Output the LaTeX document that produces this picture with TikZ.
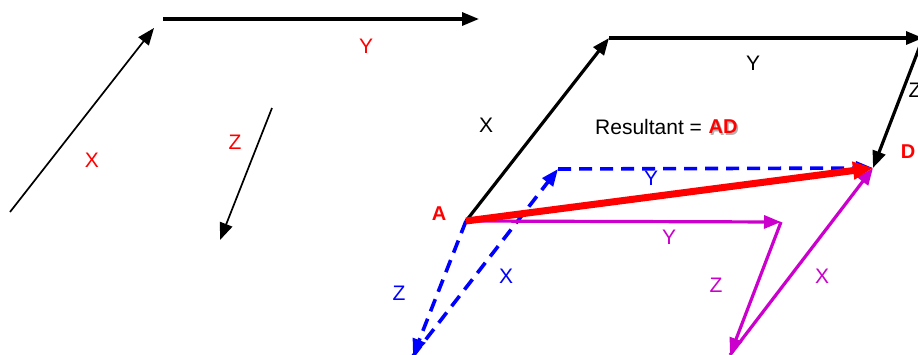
\documentclass[tikz,border=0pt]{standalone}
\usepackage{fontspec}
\setmainfont{Liberation Sans}
\usetikzlibrary{arrows.meta}
\definecolor{mred}{RGB}{255,0,0}
\definecolor{mblue}{RGB}{0,0,255}
\definecolor{mmag}{RGB}{204,0,204}
\begin{document}
\begin{tikzpicture}[x=1pt,y=-1pt,
  lbl/.style={inner sep=0pt,text depth=0pt,font=\fontsize{21}{25}\selectfont},
  blbl/.style={lbl,font=\fontsize{20}{24}\selectfont\bfseries},
  tipbig/.style={-{Triangle[length=17pt,width=13pt]}},
  thinvec/.style={tipbig,line width=1.7pt,black},
  thickvec/.style={tipbig,line width=3.2pt,black},
  magvec/.style={tipbig,line width=3.2pt,mmag},
  bluevec/.style={tipbig,line width=3.6pt,mblue,dash pattern=on 13pt off 8pt},
  resvec/.style={-{Triangle[length=20pt,width=17pt]},line width=7pt,mred}]
\useasboundingbox (0,0) rectangle (918,354);
\clip (0,0) rectangle (918,354);
% left: separate vectors
\coordinate (xs) at (10,212);
\coordinate (xe) at (154,28);
\coordinate (ys) at (163,19);
\coordinate (ye) at (479,19);
\coordinate (zs) at (272,108);
\coordinate (ze) at (220,240);
\draw[thinvec] (xs) -- (xe);
\draw[thickvec] (ys) -- (ye);
\draw[thinvec] (zs) -- (ze);
\node[lbl,text=mred] (lx) at (92,160) {X};
\node[lbl,text=mred] (ly) at (366,46) {Y};
\node[lbl,text=mred] (lz) at (235,142) {Z};
% right: parallelogram route
\coordinate (A) at (466,221);
\coordinate (B) at (609,38);
\coordinate (C) at (923,38);
\coordinate (D) at (873,168);
\coordinate (M1) at (781,222);
\coordinate (M2) at (730,355);
\coordinate (Bz) at (413,356);
\coordinate (Bx) at (558,169);
\draw[thickvec] (A) -- (B);
\draw[thickvec] (B) -- (C);
\draw[thickvec] (C) -- (D);
\draw[bluevec] (A) -- (Bz);
\draw[bluevec] (Bz) -- (Bx);
\draw[bluevec] (Bx) -- (D);
\draw[magvec] (A) -- (M1);
\draw[magvec] (M1) -- (M2);
\draw[magvec] (M2) -- (D);
\draw[resvec] (A) -- (D);
\node[lbl] (rx) at (486,125) {X};
\node[lbl] (ry) at (753,63) {Y};
\node[lbl] (rz) at (915,90) {Z};
\node[lbl,anchor=west] (res) at (595,127) {Resultant =};
\node[blbl,text=black!30] (adsh) at (724.5,128.5) {AD};
\node[blbl,text=mred] (ad) at (723,127) {AD};
\node[blbl,text=mred] (la) at (439,214) {A};
\node[blbl,text=mred] (ld) at (908,152) {D};
\node[lbl,text=mblue] (bz) at (399,293) {Z};
\node[lbl,text=mblue] (bx) at (506,276) {X};
\node[lbl,text=mblue] (by) at (651,178) {Y};
\node[lbl,text=mmag] (my) at (669,237) {Y};
\node[lbl,text=mmag] (mz) at (716,285) {Z};
\node[lbl,text=mmag] (mx) at (822,276) {X};
\end{tikzpicture}
\end{document}
